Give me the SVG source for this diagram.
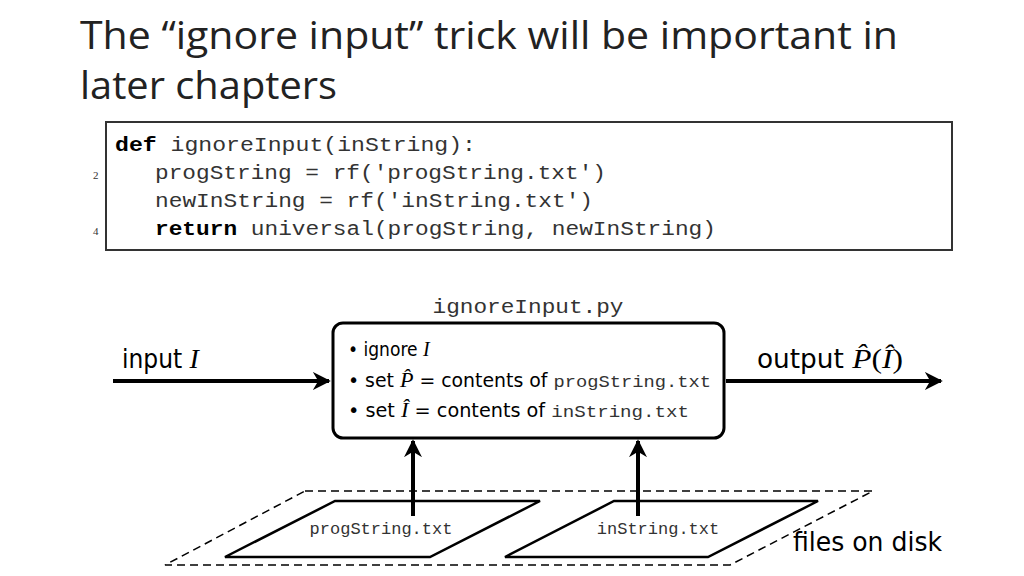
<svg xmlns="http://www.w3.org/2000/svg" width="1024" height="576" viewBox="0 0 1024 576">
<style>
.t{font-family:"Open Sans","Liberation Sans",sans-serif;fill:#222}
.m{font-family:"Liberation Mono",monospace;fill:#333}
.s{font-family:"DejaVu Sans Condensed","Liberation Sans",sans-serif;fill:#000}
.i{font-family:"Liberation Serif",serif;font-style:italic}
.ln{stroke:#000;stroke-width:4;fill:none}
</style>
<defs><marker id="a" viewBox="0 0 10 10" refX="9" refY="5" markerWidth="4.5" markerHeight="4.5" orient="auto"><path d="M0,0L10,5L0,10L3,5z" fill="#000"/></marker></defs>
<rect width="1024" height="576" fill="#fff"/>
<text class="t" x="80" y="49" font-size="38" textLength="818" lengthAdjust="spacingAndGlyphs">The “ignore input” trick will be important in</text>
<text class="t" x="80" y="99" font-size="38" textLength="257" lengthAdjust="spacingAndGlyphs">later chapters</text>
<g id="code">
<rect x="106" y="122" width="846" height="128" fill="#fff" stroke="#333" stroke-width="2"/>
<text font-family="Liberation Serif,serif" font-size="11" x="93" y="179" fill="#333">2</text>
<text font-family="Liberation Serif,serif" font-size="11" x="93" y="235" fill="#333">4</text>
<g class="m" font-size="20">
<text x="115" y="151" textLength="361" lengthAdjust="spacingAndGlyphs"><tspan font-weight="bold" fill="#000">def</tspan> ignoreInput(inString):</text>
<text x="155" y="179" textLength="451" lengthAdjust="spacingAndGlyphs">progString = rf('progString.txt')</text>
<text x="155" y="207" textLength="438" lengthAdjust="spacingAndGlyphs">newInString = rf('inString.txt')</text>
<text x="155" y="235" textLength="561" lengthAdjust="spacingAndGlyphs"><tspan font-weight="bold" fill="#000">return</tspan> universal(progString, newInString)</text>
</g>
</g>
<g id="disk">
<polygon points="305,491 873,491 730,565 165,565" fill="none" stroke="#000" stroke-width="1.5" stroke-dasharray="8,5"/>
<text class="s" x="793" y="551" font-size="26" textLength="149" lengthAdjust="spacingAndGlyphs">files on disk</text>
</g>
<g id="prog"><polygon points="335,501 540,501 430,557 225,557" fill="#fff" stroke="#000" stroke-width="2.5"/>
<text class="m" x="381" y="534" font-size="17" text-anchor="middle">progString.txt</text></g>
<g id="instr"><polygon points="614,501 818,501 708,557 505,557" fill="#fff" stroke="#000" stroke-width="2.5"/>
<text class="m" x="658" y="534" font-size="17" text-anchor="middle">inString.txt</text></g>
<g id="prog-box">
<text class="m" x="528" y="313" font-size="21" text-anchor="middle" textLength="191" lengthAdjust="spacingAndGlyphs">ignoreInput.py</text>
<rect x="333" y="323" width="391" height="115" rx="10" fill="#fff" stroke="#000" stroke-width="3"/>
<g class="s" font-size="19">
<text x="348" y="356">• ignore <tspan class="i" font-size="20">I</tspan></text>
<text x="348" y="387" textLength="363" lengthAdjust="spacingAndGlyphs">• set <tspan class="i" font-size="20">P̂</tspan> = contents of <tspan class="m" font-size="17">progString.txt</tspan></text>
<text x="348" y="417" textLength="341" lengthAdjust="spacingAndGlyphs">• set <tspan class="i" font-size="20">Î</tspan> = contents of <tspan class="m" font-size="17">inString.txt</tspan></text>
</g>
</g>
<g id="labels" class="s" font-size="26">
<text x="122" y="368">input <tspan class="i" font-size="28">I</tspan></text>
<text x="757" y="368" textLength="146" lengthAdjust="spacingAndGlyphs">output <tspan class="i" font-size="28">P̂</tspan><tspan font-family="Liberation Serif,serif" font-size="28">(</tspan><tspan class="i" font-size="28">Î</tspan><tspan font-family="Liberation Serif,serif" font-size="28">)</tspan></text>
</g>
<g id="connectors">
<line class="ln" x1="113" y1="381" x2="329" y2="381" marker-end="url(#a)"/>
<line class="ln" x1="726" y1="381" x2="941" y2="381" marker-end="url(#a)"/>
<line class="ln" x1="413" y1="516" x2="413" y2="441" marker-end="url(#a)"/>
<line class="ln" x1="638" y1="516" x2="638" y2="441" marker-end="url(#a)"/>
</g>
</svg>
